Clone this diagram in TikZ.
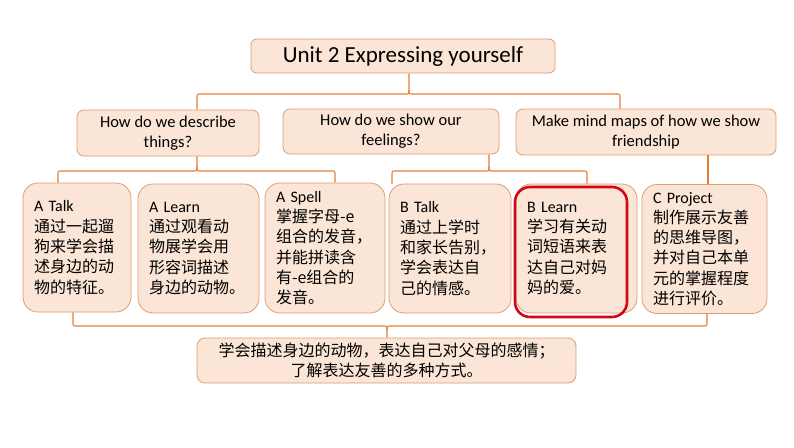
\documentclass[tikz,border=0pt]{standalone}
\usepackage{fontspec}
\setmainfont{Carlito}
\newfontfamily\cjk{Noto Sans CJK SC}
\definecolor{boxfill}{RGB}{251,229,214}
\definecolor{boxline}{RGB}{222,158,115}
\definecolor{connc}{RGB}{230,125,50}
\definecolor{hired}{RGB}{208,10,20}
\begin{document}
\begin{tikzpicture}[x=1pt,y=-1pt,
  box/.style={draw=boxline, fill=boxfill, line width=0.8pt, inner sep=0pt},
  topbox/.style={box, rounded corners=6pt, align=center, font=\fontsize{23}{26}\selectfont},
  qbox/.style={box, rounded corners=7pt, align=center, font=\fontsize{16.5}{20}\selectfont},
  card/.style={box, rounded corners=15pt, inner xsep=11pt, minimum height=129pt, align=left, font=\fontsize{16}{20.3}\selectfont},
  sumbox/.style={box, rounded corners=8pt, align=center, minimum width=379pt, minimum height=45pt, font=\cjk\fontsize{16}{19.5}\selectfont},
  conn/.style={draw=connc, line width=1.1pt},
  hilite/.style={draw=hired, line width=2.6pt, rounded corners=15pt, inner sep=0pt}
]
\fill[white] (0,0) rectangle (794,447);
\useasboundingbox (0,0) rectangle (794,447);

% top
\node[topbox, minimum width=304pt, minimum height=34pt] (unit) at (403,56) {Unit 2 Expressing yourself};

% questions
\node[qbox, minimum width=182pt, minimum height=46pt] (qA) at (168,133) {How do we describe\\things?};
\node[qbox, minimum width=216pt, minimum height=45pt] (qB) at (391,131.5) {How do we show our\\feelings?};
\node[qbox, minimum width=260pt, minimum height=46pt] (qC) at (646,132) {Make mind maps of how we show\\friendship};

% cards
\node[card, text width=86pt] (tA) at (77,247.5) {A Talk\\\cjk 通过一起遛\\狗来学会描\\述身边的动\\物的特征。};
\node[card, text width=99pt] (tL) at (198.5,248.5) {A Learn\\\cjk 通过观看动\\物展学会用\\形容词描述\\身边的动物。};
\node[card, text width=98pt, minimum height=130pt] (tS) at (325,248) {A Spell\\\cjk 掌握字母-e\\组合的发音，\\并能拼读含\\有-e组合的\\发音。};
\node[card, text width=100pt] (tBT) at (450,248.5) {B Talk\\\cjk 通过上学时\\和家长告别，\\学会表达自\\己的情感。};
\node[card, text width=99pt] (tBL) at (576.5,248.5) {B Learn\\\cjk 学习有关动\\词短语来表\\达自己对妈\\妈的爱。};
\node[card, text width=103pt] (tC) at (704.5,249) {C Project\\\cjk 制作展示友善\\的思维导图，\\并对自己本单\\元的掌握程度\\进行评价。};
\node[hilite, minimum width=112pt, minimum height=130pt] (hl) at (571,252) {};

% summary
\node[sumbox] (sum) at (386.5,360.5) {学会描述身边的动物，表达自己对父母的感情；\\了解表达友善的多种方式。};

% x positions of connector legs
\coordinate (x197) at (197,0);
\coordinate (x409) at (409,0);
\coordinate (x620) at (620,0);
\coordinate (x58) at (58,0);
\coordinate (x335) at (335,0);
\coordinate (x392) at (392,0);
\coordinate (x489) at (489,0);
\coordinate (x587) at (587,0);
\coordinate (x708) at (708,0);
\coordinate (x73) at (73,0);
\coordinate (x707) at (707,0);
\coordinate (x387) at (387,0);

% top bracket
\draw[conn] (qA.north -| x197) -- (197,98) .. controls (197,94) .. (201,94) -- (405,94) .. controls (409,94) .. (409,90) -- (unit.south -| x409);
\draw[conn] (qC.north -| x620) -- (620,98) .. controls (620,94) .. (616,94) -- (413,94) .. controls (409,94) .. (409,90);

% bracket under A
\draw[conn] (tA.north -| x58) -- (58,175) .. controls (58,171) .. (62,171) -- (193,171) .. controls (197,171) .. (197,167) -- (qA.south -| x197);
\draw[conn] (tS.north -| x335) -- (335,175) .. controls (335,171) .. (331,171) -- (201,171) .. controls (197,171) .. (197,167);

% bracket under B
\draw[conn] (tBT.north -| x392) -- (392,175) .. controls (392,171) .. (396,171) -- (485,171) .. controls (489,171) .. (489,167) -- (qB.south -| x489);
\draw[conn] (tBL.north -| x587) -- (587,175) .. controls (587,171) .. (583,171) -- (493,171) .. controls (489,171) .. (489,167);

% line under C
\draw[conn] (qC.south -| x708) -- (tC.north -| x708);

% bottom bracket
\draw[conn] (tA.south -| x73) -- (73,322) .. controls (73,326) .. (77,326) -- (383,326) .. controls (387,326) .. (387,330) -- (sum.north -| x387);
\draw[conn] (tC.south -| x707) -- (707,322) .. controls (707,326) .. (703,326) -- (391,326) .. controls (387,326) .. (387,330);
\end{tikzpicture}
\end{document}
